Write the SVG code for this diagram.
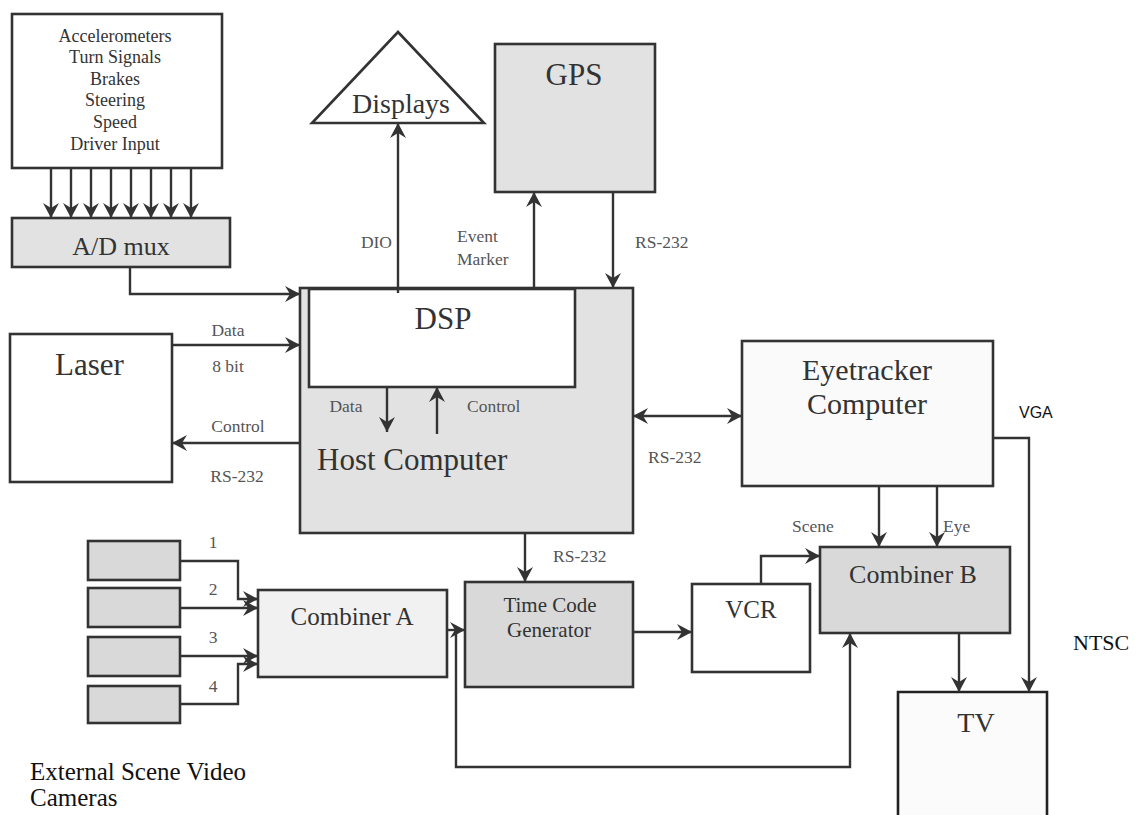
<svg xmlns="http://www.w3.org/2000/svg" width="1141" height="815" viewBox="0 0 1141 815">
<defs>
<marker id="ah" markerUnits="userSpaceOnUse" markerWidth="18" markerHeight="18" refX="15" refY="9" orient="auto-start-reverse">
<path d="M0,1 L15,9 L0,17 L5,9 z" fill="#333"/>
</marker>
<style>
.box{stroke:#333;stroke-width:2.6}
.w{fill:#ffffff}
.g{fill:#e2e2e2}
.g2{fill:#d9d9d9}
.g3{fill:#f1f1f1}
.c{fill:none;stroke:#333;stroke-width:2.4}
.a{marker-end:url(#ah)}
.t{font-family:"Liberation Serif",serif;fill:#333}
.lbl{font-family:"Liberation Serif",serif;fill:#555;font-size:17.5px}
.mid{text-anchor:middle}
</style>
</defs>
<rect width="1141" height="815" fill="#ffffff"/>

<g id="sensors">
<rect class="box w" x="12" y="14" width="210" height="154"/>
<g class="t mid" font-size="18">
<text x="115" y="42">Accelerometers</text>
<text x="115" y="63">Turn Signals</text>
<text x="115" y="85">Brakes</text>
<text x="115" y="106">Steering</text>
<text x="115" y="128">Speed</text>
<text x="115" y="150">Driver Input</text>
</g>
</g>

<g id="admux">
<rect class="box g" x="12" y="218" width="218" height="49"/>
<text class="t mid" x="121" y="255" font-size="26">A/D mux</text>
</g>

<g id="displays">
<polygon class="box w" points="398,32 484,123 312,123"/>
<text class="t mid" x="401" y="113" font-size="28">Displays</text>
</g>

<g id="gps">
<rect class="box g" x="495" y="44" width="160" height="148"/>
<text class="t mid" x="574" y="85" font-size="31">GPS</text>
</g>

<g id="host">
<rect class="box g" x="300" y="288" width="333" height="245"/>
<text class="t" x="317" y="470" font-size="31">Host Computer</text>
</g>

<g id="dsp">
<rect class="box w" x="309" y="289" width="266" height="98"/>
<text class="t mid" x="443" y="329" font-size="31">DSP</text>
</g>

<g id="laser">
<rect class="box w" x="10" y="334" width="162" height="148"/>
<text class="t" x="55" y="375" font-size="31" fill="#111">Laser</text>
</g>

<g id="eyetracker">
<rect class="box" fill="#fafafa" x="742" y="341" width="251" height="145"/>
<text class="t mid" x="867" y="380" font-size="30">Eyetracker</text>
<text class="t mid" x="867" y="414" font-size="30">Computer</text>
</g>

<g id="cameras">
<rect class="box g2" x="88" y="541" width="92" height="39"/>
<rect class="box g2" x="88" y="588" width="92" height="39"/>
<rect class="box g2" x="88" y="637" width="92" height="39"/>
<rect class="box g2" x="88" y="686" width="92" height="37"/>
</g>

<g id="combinerA">
<rect class="box g3" x="258" y="590" width="189" height="87"/>
<text class="t mid" x="352" y="625" font-size="25">Combiner A</text>
</g>

<g id="tcg">
<rect class="box g2" x="465" y="582" width="168" height="105"/>
<text class="t mid" x="550" y="612" font-size="21">Time Code</text>
<text class="t mid" x="549" y="637" font-size="21">Generator</text>
</g>

<g id="vcr">
<rect class="box w" x="692" y="584" width="118" height="88"/>
<text class="t mid" x="751" y="618" font-size="25">VCR</text>
</g>

<g id="combinerB">
<rect class="box g2" x="820" y="547" width="190" height="86"/>
<text class="t mid" x="913" y="583" font-size="26">Combiner B</text>
</g>

<g id="tv">
<rect x="898" y="692" width="149" height="130" fill="#fbfbfb"/>
<path d="M898,815 V692 H1047 V815" fill="none" stroke="#222" stroke-width="2.6"/>
<text class="t mid" x="976" y="732" font-size="28">TV</text>
</g>

<g id="connectors">
<path class="c a" d="M51,168 V218"/>
<path class="c a" d="M71,168 V218"/>
<path class="c a" d="M91,168 V218"/>
<path class="c a" d="M111,168 V218"/>
<path class="c a" d="M131,168 V218"/>
<path class="c a" d="M151,168 V218"/>
<path class="c a" d="M171,168 V218"/>
<path class="c a" d="M191,168 V218"/>
<path class="c a" d="M130,267 V294 H300"/>
<path class="c a" d="M398,293 V123"/>
<path class="c a" d="M534,288 V192"/>
<path class="c a" d="M613,192 V288"/>
<path class="c a" d="M172,345 H300"/>
<path class="c a" d="M300,443 H172"/>
<path class="c a" d="M387,387 V432"/>
<path class="c a" d="M437,434 V387"/>
<path class="c a" d="M633,416 H742" style="marker-start:url(#ah)"/>
<path class="c a" d="M525,533 V582"/>
<path class="c a" d="M180,561 H238 V599 H258"/>
<path class="c a" d="M180,608 H258"/>
<path class="c a" d="M180,656 H258"/>
<path class="c a" d="M180,704 H238 V664 H258"/>
<path class="c a" d="M447,630 H465"/>
<path class="c a" d="M456,630 V767 H850 V633"/>
<path class="c a" d="M633,632 H692"/>
<path class="c a" d="M761,584 V556 H820"/>
<path class="c a" d="M879,486 V547"/>
<path class="c a" d="M937,486 V547"/>
<path class="c a" d="M959,633 V692"/>
<path class="c a" d="M993,438 H1029 V692"/>
</g>

<g id="labels">
<text class="lbl" x="392" y="248" text-anchor="end">DIO</text>
<text class="lbl" x="457" y="242">Event</text>
<text class="lbl" x="457" y="265">Marker</text>
<text class="lbl" x="635" y="248">RS-232</text>
<text class="lbl mid" x="228" y="336">Data</text>
<text class="lbl mid" x="228" y="372">8 bit</text>
<text class="lbl mid" x="238" y="432">Control</text>
<text class="lbl mid" x="237" y="482">RS-232</text>
<text class="lbl mid" x="346" y="412">Data</text>
<text class="lbl" x="467" y="412">Control</text>
<text class="lbl" x="648" y="463">RS-232</text>
<text class="lbl" x="553" y="562">RS-232</text>
<text class="lbl" x="792" y="532">Scene</text>
<text class="lbl" x="943" y="532">Eye</text>
<text class="lbl mid" x="213" y="548">1</text>
<text class="lbl mid" x="213" y="595">2</text>
<text class="lbl mid" x="213" y="643">3</text>
<text class="lbl mid" x="213" y="692">4</text>
<text x="1019" y="418" font-family="'Liberation Sans',sans-serif" font-size="16" fill="#111">VGA</text>
<text x="1073" y="650" font-family="'Liberation Serif',serif" font-size="22" fill="#111">NTSC</text>
<text x="30" y="780" font-family="'Liberation Serif',serif" font-size="25" fill="#111">External Scene Video</text>
<text x="30" y="806" font-family="'Liberation Serif',serif" font-size="25" fill="#111">Cameras</text>
</g>
</svg>
